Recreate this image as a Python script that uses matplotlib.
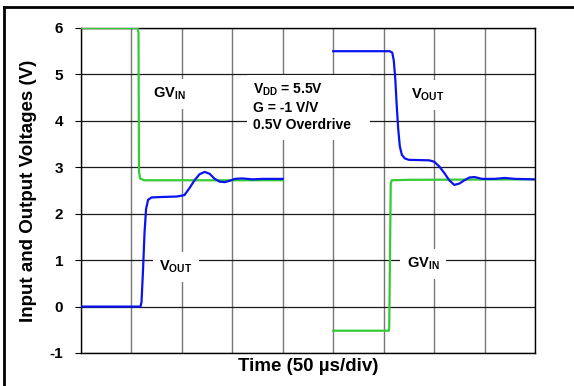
import matplotlib.pyplot as plt
from matplotlib.lines import Line2D
from matplotlib.patches import Rectangle

plt.rcParams['font.family'] = ['Liberation Sans', 'DejaVu Sans']
plt.rcParams['font.weight'] = 'bold'
plt.rcParams['axes.unicode_minus'] = False
plt.rcParams['mathtext.fontset'] = 'custom'
plt.rcParams['mathtext.rm'] = 'Liberation Sans:bold'
plt.rcParams['mathtext.bf'] = 'Liberation Sans:bold'
plt.rcParams['mathtext.default'] = 'rm'

# time in divisions (50 us/div), voltages in V
vout1_t = [0, 1.18, 1.20, 1.23, 1.26, 1.29, 1.33, 1.40, 1.6, 1.9, 2.05, 2.15, 2.25,
           2.35, 2.45, 2.55, 2.65, 2.75, 2.85, 2.95, 3.05, 3.2, 3.4, 3.6, 4.0]
vout1_v = [0, 0, 0.1, 0.8, 1.6, 2.1, 2.3, 2.35, 2.36, 2.37, 2.4, 2.55, 2.72,
           2.85, 2.90, 2.86, 2.75, 2.69, 2.68, 2.71, 2.75, 2.76, 2.74, 2.75, 2.75]

gvin1_t = [0, 1.12, 1.14, 1.15, 1.17, 1.25, 4.0]
gvin1_v = [6, 6, 5.9, 2.9, 2.76, 2.72, 2.72]

vout2_t = [5, 6.12, 6.17, 6.20, 6.23, 6.26, 6.29, 6.32, 6.36, 6.42, 6.5, 6.9, 7.0,
           7.1, 7.2, 7.3, 7.4, 7.5, 7.6, 7.7, 7.8, 7.95, 8.2, 8.4, 8.6, 9.0]
vout2_v = [5.5, 5.5, 5.47, 5.3, 4.9, 4.3, 3.8, 3.45, 3.27, 3.19, 3.16, 3.15, 3.12,
           3.02, 2.88, 2.72, 2.62, 2.65, 2.72, 2.78, 2.79, 2.75, 2.75, 2.77, 2.75, 2.74]

gvin2_t = [5, 6.10, 6.11, 6.14, 6.16, 6.5, 9.0]
gvin2_v = [-0.52, -0.52, -0.45, 2.65, 2.72, 2.73, 2.74]

yticks = [-1, 0, 1, 2, 3, 4, 5, 6]

GREEN = '#33cc33'
BLUE = '#0a14f0'

fig = plt.figure(figsize=(5.74, 3.86), dpi=100)
ax = fig.add_axes([0.1411, 0.0855, 0.7910, 0.842])

ax.plot(gvin1_t, gvin1_v, color=GREEN, lw=1.6, zorder=4)
ax.plot(gvin2_t, gvin2_v, color=GREEN, lw=1.6, zorder=4)
ax.plot(vout1_t, vout1_v, color=BLUE, lw=1.6, zorder=5)
ax.plot(vout2_t, vout2_v, color=BLUE, lw=1.6, zorder=5)

ax.set_xlim(0, 9)
ax.set_ylim(-1, 6)
ax.set_xticks(range(10))
ax.set_xticklabels([])
ax.tick_params(axis='x', length=0)
ax.set_yticks(yticks)
ax.tick_params(axis='y', length=4.3, width=0.8, pad=8.5, labelsize=11, direction='out')
ax.set_axisbelow(True)
ax.grid(True, axis='x', color='#777777', lw=1.0)
ax.grid(True, axis='y', color='#1a1a1a', lw=0.9)
for s in ax.spines.values():
    s.set_color('black')
    s.set_linewidth(1.0)

ax.set_ylabel('Input and Output Voltages (V)', fontsize=13.5, fontweight='bold')
ax.yaxis.set_label_coords(-0.097, 0.5)
ax.set_xlabel('Time (50 µs/div)', fontsize=13.5, fontweight='bold', va='top')
ax.xaxis.set_label_coords(0.5, -0.015)

box = dict(boxstyle='square,pad=0.45', fc='white', ec='none')
ax.text(1.76, 4.58, r'GV$_{IN}$', fontsize=10.5, ha='center', va='center', bbox=box, zorder=3)
ax.text(6.87, 4.56, r'V$_{OUT}$', fontsize=10.5, ha='center', va='center', bbox=box, zorder=3)
ax.text(1.88, 0.85, r'V$_{OUT}$', fontsize=10.5, ha='center', va='center', bbox=box, zorder=3)
ax.text(6.78, 0.92, r'GV$_{IN}$', fontsize=10.5, ha='center', va='center', bbox=box, zorder=3)

ax.add_patch(Rectangle((3.29, 3.59), 2.44, 1.40, fc='white', ec='none', zorder=2.5))
ax.text(3.41, 4.30, 'V$_{DD}$ = 5.5V\nG = -1 V/V\n0.5V Overdrive', fontsize=10,
        ha='left', va='center', linespacing=1.25, zorder=3)

# outer frame (top and left only)
fig.add_artist(Line2D([0.0075, 1.0], [0.983, 0.983], color='black', lw=2.0))
fig.add_artist(Line2D([0.0075, 0.0075], [0.0, 0.983], color='black', lw=2.0))

fig.savefig('out.png', dpi=100)
